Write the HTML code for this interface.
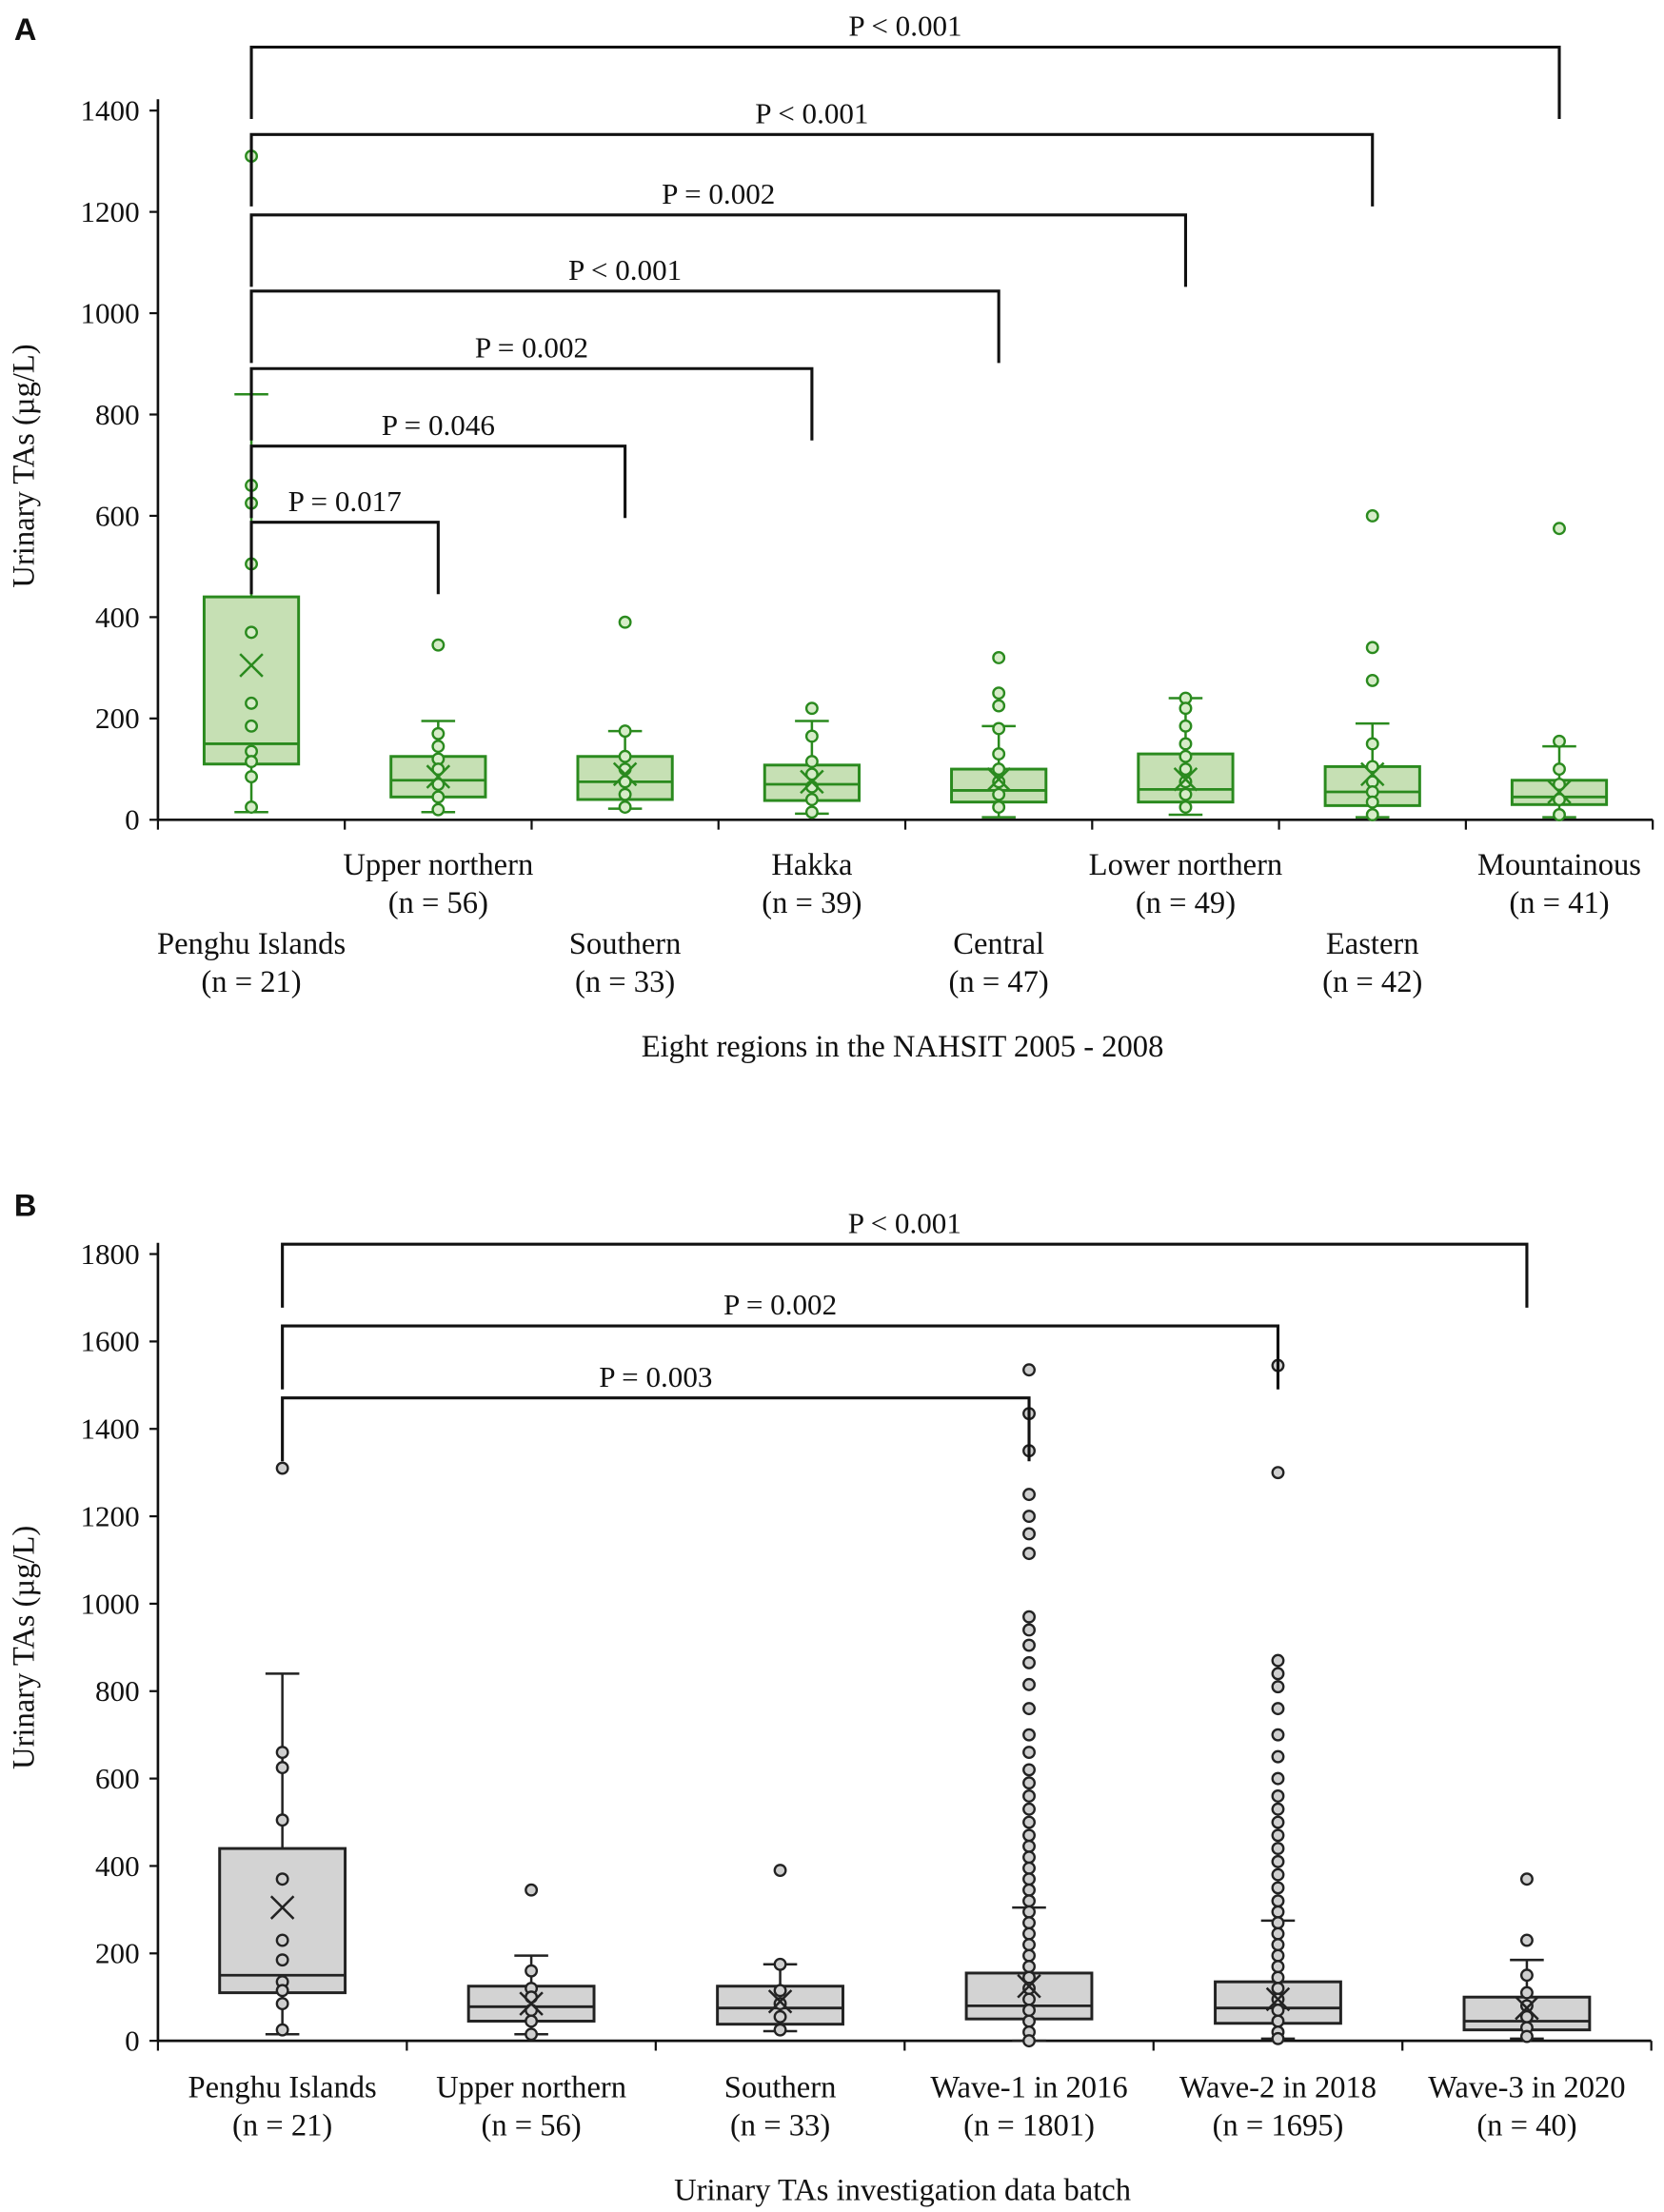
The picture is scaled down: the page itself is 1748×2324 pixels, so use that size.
<!DOCTYPE html>
<html><head><meta charset="utf-8"><style>
html,body{margin:0;padding:0;background:#fff}
svg{display:block}
text{font-family:"Liberation Serif",serif;fill:#111}
</style></head><body>
<svg id="fig" width="1748" height="2324" viewBox="0 0 1180 1568">
<text x="10" y="28" style="font-family:'Liberation Sans',sans-serif;font-weight:bold;font-size:22px">A</text>
<text x="10" y="862" style="font-family:'Liberation Sans',sans-serif;font-weight:bold;font-size:22px">B</text>
<g id="pa"></g>
<g id="pb"></g>
</svg>
<script>
// ---- Panel A data ----
const catsA = [["Penghu Islands","(n = 21)"],["Upper northern","(n = 56)"],["Southern","(n = 33)"],["Hakka","(n = 39)"],["Central","(n = 47)"],["Lower northern","(n = 49)"],["Eastern","(n = 42)"],["Mountainous","(n = 41)"]];
const q1A = [110,45,40,38,35,35,28,30];
const medA = [150,78,75,70,58,60,55,45];
const q3A = [440,125,125,108,100,130,105,78];
const loA = [15,15,22,12,5,10,5,5];
const hiA = [840,195,175,195,185,240,190,145];
const meanA = [305,85,90,75,80,80,90,55];
const ptsA = [
 [1310,660,625,505,370,230,185,135,115,85,25],
 [345,170,145,120,100,70,45,20],
 [390,175,125,100,75,50,25],
 [220,165,115,90,65,40,15],
 [320,250,225,180,130,100,75,50,25],
 [240,220,185,150,125,100,75,50,25],
 [600,340,275,150,105,75,55,35,10],
 [575,155,100,70,40,10]];
const ticksA = [0,200,400,600,800,1000,1200,1400];
const sigA = [["P < 0.001",7],["P < 0.001",6],["P = 0.002",5],["P < 0.001",4],["P = 0.002",3],["P = 0.046",2],["P = 0.017",1]];
// ---- Panel B data ----
const catsB = [["Penghu Islands","(n = 21)"],["Upper northern","(n = 56)"],["Southern","(n = 33)"],["Wave-1 in 2016","(n = 1801)"],["Wave-2 in 2018","(n = 1695)"],["Wave-3 in 2020","(n = 40)"]];
const q1B = [110,45,38,50,40,25];
const medB = [150,78,75,80,75,45];
const q3B = [440,125,125,155,135,100];
const loB = [15,15,22,0,5,5];
const hiB = [840,195,175,305,275,185];
const meanB = [305,85,90,125,95,75];
const ptsB = [
 [1310,660,625,505,370,230,185,135,115,85,25],
 [345,160,120,100,70,45,15],
 [390,175,115,85,55,25],
 [1535,1435,1350,1250,1200,1160,1115,970,940,905,865,815,760,700,660,620,590,560,530,500,470,445,420,395,370,345,320,295,270,245,220,195,170,145,120,95,70,45,20,0],
 [1545,1300,870,840,810,760,700,650,600,560,530,500,470,440,410,380,350,320,295,270,245,220,195,170,145,120,95,70,45,20,5],
 [370,230,150,110,80,55,30,10]];
const ticksB = [0,200,400,600,800,1000,1200,1400,1600,1800];
const sigB = [["P < 0.001",5],["P = 0.002",4],["P = 0.003",3]];

const NS="http://www.w3.org/2000/svg";
function mk(parent,tag,attrs,txt){const e=document.createElementNS(NS,tag);for(const k in attrs)e.setAttribute(k,attrs[k]);if(txt!==undefined)e.textContent=txt;parent.appendChild(e);return e;}

function draw(g,cfg){
  const {cats,q1,med,q3,lo,hi,mean,pts,ticks,sig,x0,x1,y0,yTop,vmax,boxW,stroke,fill,ptFill,sigLevels,sigDrop,labelRows}=cfg;
  const n=cats.length, bw=(x1-x0)/n;
  const X=i=>x0+bw*(i+0.5);
  const Y=v=>y0-(v/vmax)*(y0-yTop);
  let e=mk(g,'line',{x1:x0,y1:yTop-8,x2:x0,y2:y0,stroke:'#111','stroke-width':1.8});
  
  e=mk(g,'line',{x1:x0,y1:y0,x2:x1,y2:y0,stroke:'#111','stroke-width':1.8});
  
  ticks.forEach(t=>{
    const l=mk(g,'line',{x1:x0-6,y1:Y(t),x2:x0,y2:Y(t),stroke:'#111','stroke-width':1.5});
    
    const tx=mk(g,'text',{x:x0-13,y:Y(t)+7,'text-anchor':'end','font-size':21},String(t));
    
  });
  for(let i=0;i<=n;i++){
    const l=mk(g,'line',{x1:x0+bw*i,y1:y0,x2:x0+bw*i,y2:y0+7,stroke:'#111','stroke-width':1.5});
    
  }
  cats.forEach((c,i)=>{
    const ly=labelRows?(i%2===0?cfg.labelY+56:cfg.labelY):cfg.labelY;
    const t1=mk(g,'text',{x:X(i),y:ly,'text-anchor':'middle','font-size':22},c[0]);
    
    const t2=mk(g,'text',{x:X(i),y:ly+27,'text-anchor':'middle','font-size':22},c[1]);
    
  });
  cats.forEach((c,i)=>{
    const cx=X(i);
    const bg=mk(g,'g',{});
    
    
    mk(bg,'line',{x1:cx,y1:Y(lo[i]),x2:cx,y2:Y(hi[i]),stroke,'stroke-width':1.7});
    mk(bg,'line',{x1:cx-12,y1:Y(lo[i]),x2:cx+12,y2:Y(lo[i]),stroke,'stroke-width':1.7});
    mk(bg,'line',{x1:cx-12,y1:Y(hi[i]),x2:cx+12,y2:Y(hi[i]),stroke,'stroke-width':1.7});
    mk(bg,'rect',{x:cx-boxW/2,y:Y(q3[i]),width:boxW,height:Y(q1[i])-Y(q3[i]),fill,stroke,'stroke-width':2});
    mk(bg,'line',{x1:cx-boxW/2,y1:Y(med[i]),x2:cx+boxW/2,y2:Y(med[i]),stroke,'stroke-width':1.9});
    pts[i].forEach(v=>{
      const p=mk(bg,'circle',{cx,cy:Y(v),r:3.9,fill:ptFill,stroke,'stroke-width':1.6});
      
    });
    const my=Y(mean[i]);
    mk(bg,'path',{d:`M${cx-8},${my-8}L${cx+8},${my+8}M${cx-8},${my+8}L${cx+8},${my-8}`,stroke,'stroke-width':1.7,fill:'none'});
  });
  sig.forEach((s,k)=>{
    const ly=sigLevels[k], xa=X(0), xb=X(s[1]);
    const sg=mk(g,'g',{});
    
    mk(sg,'path',{d:`M${xa},${ly+sigDrop}L${xa},${ly}L${xb},${ly}L${xb},${ly+sigDrop}`,stroke:'#111','stroke-width':2.1,fill:'none'});
    mk(sg,'text',{x:(xa+xb)/2,y:ly-8,'text-anchor':'middle','font-size':21},s[0]);
  });
}
draw(document.getElementById('pa'),{cats:catsA,q1:q1A,med:medA,q3:q3A,lo:loA,hi:hiA,mean:meanA,pts:ptsA,ticks:ticksA,sig:sigA,
  x0:112,x1:1172,y0:581,yTop:78,vmax:1400,boxW:67,stroke:'#2a8a1e',fill:'#c6e0b4',ptFill:'#d6ecc8',
  sigLevels:[33,95,152,206,261,316,370],sigDrop:51,labelRows:true,labelY:620});
draw(document.getElementById('pb'),{cats:catsB,q1:q1B,med:medB,q3:q3B,lo:loB,hi:hiB,mean:meanB,pts:ptsB,ticks:ticksB,sig:sigB,
  x0:112,x1:1171,y0:1447,yTop:889,vmax:1800,boxW:89,stroke:'#222',fill:'#d3d3d3',ptFill:'#cfcfcf',
  sigLevels:[882,940,991],sigDrop:45,labelRows:false,labelY:1487});
</script>
<script>
const f=document.getElementById('fig');
function T(x,y,txt,name,rot){const e=document.createElementNS("http://www.w3.org/2000/svg",'text');e.setAttribute('x',x);e.setAttribute('y',y);e.setAttribute('text-anchor','middle');e.setAttribute('font-size',22);if(rot)e.setAttribute('transform',`rotate(-90 ${x} ${y})`);e.textContent=txt;


f.appendChild(e);}
T(24,330,"Urinary  TAs (µg/L)","y-axis-title-a",true);
T(24,1168,"Urinary  TAs (µg/L)","y-axis-title-b",true);
T(640,749,"Eight regions in the NAHSIT 2005 - 2008","x-axis-title-a");
T(640,1560,"Urinary  TAs investigation  data batch","x-axis-title-b");
</script>
</body></html>
